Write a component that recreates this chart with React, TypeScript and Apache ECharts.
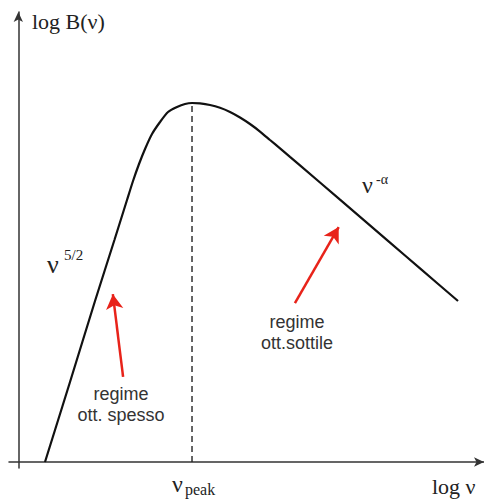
import React, { useEffect, useRef } from "react";
import * as echarts from "echarts";

// Spectrum curve (log nu, log B)
const curveX = [5.73, 7.88, 11.1, 16.47, 20.64, 23.34, 24.63, 25.92, 27.21, 28.71, 30.43, 32.15, 34.08, 35.8, 37.3, 39.02, 41.16, 43.31, 45.46, 47.61, 49.75, 51.9, 54.05, 56.2, 58.34, 60.49, 69.08, 79.82, 86.26, 94.42];
const curveY = [0, 7.11, 17.78, 35.78, 49.33, 58.22, 62.44, 66.22, 69.56, 72.89, 75.56, 77.78, 78.89, 79.56, 79.78, 79.69, 79.33, 78.71, 77.78, 76.56, 75.11, 73.44, 71.56, 69.71, 67.82, 65.93, 58.29, 48.76, 43.02, 35.78];
const peakX = 37.3;
const peakY = 79.78;
// red annotation arrows: [tailX, tailY, headX, headY]
const arrowThick = [22.5, 18.9, 20.3, 37.3];
const arrowThin = [59.4, 35.3, 68.8, 52.2];

export default function App() {
  const ref = useRef<HTMLDivElement>(null);
  useEffect(() => {
    if (!ref.current) return;
    const chart = echarts.init(ref.current, undefined, { renderer: "svg" });
    const curve = curveX.map((x, i) => [x, curveY[i]]);
    const serif = "'Liberation Serif', 'Times New Roman', serif";
    const sans = "'Liberation Sans', Arial, sans-serif";
    const txt = (text: string, x: number, y: number, size: number, family: string, align = "left", fill = "#222", lh?: number) => ({
      type: "text",
      x,
      y,
      silent: true,
      style: {
        text,
        fontSize: size,
        fontFamily: family,
        fill,
        align,
        verticalAlign: "middle",
        lineHeight: lh,
      },
    });
    chart.setOption({
      animation: false,
      backgroundColor: "#fff",
      grid: { left: 9, right: 0, top: 12, bottom: 32, containLabel: false },
      xAxis: {
        type: "value",
        min: -2,
        max: 100,
        axisLine: {
          show: true,
          onZero: true,
          symbol: ["none", "arrow"],
          symbolSize: [7, 10],
          lineStyle: { color: "#333", width: 1.5 },
        },
        axisTick: { show: false },
        axisLabel: { show: false },
        splitLine: { show: false },
      },
      yAxis: {
        type: "value",
        min: -1.333,
        max: 100,
        axisLine: {
          show: true,
          onZero: true,
          symbol: ["none", "arrow"],
          symbolSize: [7, 10],
          lineStyle: { color: "#333", width: 1.5 },
        },
        axisTick: { show: false },
        axisLabel: { show: false },
        splitLine: { show: false },
      },
      series: [
        {
          type: "line",
          data: curve,
          showSymbol: false,
          smooth: 0.2,
          silent: true,
          lineStyle: { color: "#111", width: 2.2 },
        },
        {
          type: "line",
          data: [
            [peakX, 0],
            [peakX, peakY],
          ],
          showSymbol: false,
          silent: true,
          lineStyle: { color: "#222", width: 1.4, type: [6, 4] },
          markLine: {
            silent: true,
            symbol: ["none", "arrow"],
            symbolSize: [13, 15],
            label: { show: false },
            lineStyle: { color: "#e8231a", width: 2.5, type: "solid" },
            data: [
              [{ coord: [arrowThick[0], arrowThick[1]] }, { coord: [arrowThick[2], arrowThick[3]] }],
              [{ coord: [arrowThin[0], arrowThin[1]] }, { coord: [arrowThin[2], arrowThin[3]] }],
            ],
          },
        },
      ],
      graphic: [
        txt("log B(\u03bd)", 32, 21, 22, serif),
        txt("log \u03bd", 432, 486, 22, serif),
        txt("\u03bd", 47, 264, 26, serif),
        txt("5/2", 64, 255, 15, serif),
        txt("\u03bd", 362, 185, 24, serif),
        txt("-\u03b1", 376, 179, 14, serif),
        txt("\u03bd", 172, 484, 24, serif),
        txt("peak", 185, 489, 16, serif),
        txt("regime\nott. spesso", 121, 404, 18, sans, "center", "#333", 21),
        txt("regime\nott.sottile", 297, 332, 18, sans, "center", "#333", 21),
      ],
    });
    return () => chart.dispose();
  }, []);
  return <div ref={ref} style={{ position: "fixed", left: 0, top: 0, width: 484, height: 500 }} />;
}
